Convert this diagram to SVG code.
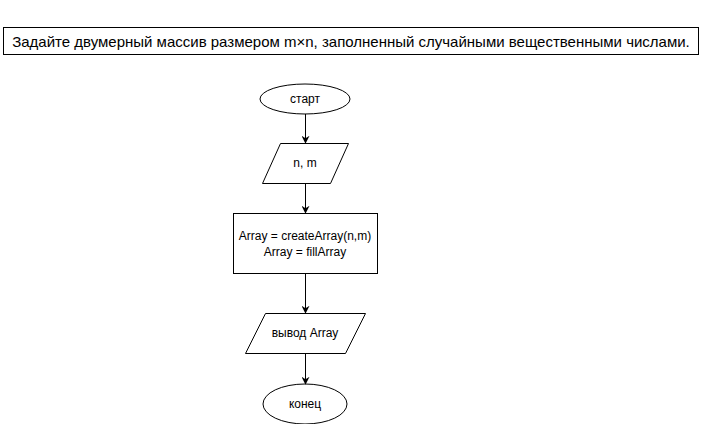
<svg xmlns="http://www.w3.org/2000/svg" width="701" height="424" viewBox="0 0 701 424">
<style>
.s{fill:#fff;stroke:#000;stroke-width:1}
.t{font-family:"Liberation Sans",Arial,sans-serif;font-size:12px;fill:#000;text-anchor:middle;dominant-baseline:central}
.c{stroke:#000;stroke-width:1;fill:none}
</style>
<defs>
<marker id="a" viewBox="0 0 10 10" refX="9" refY="5" markerWidth="8" markerHeight="8" markerUnits="userSpaceOnUse" orient="auto">
<path d="M0,0 L10,5 L0,10 L3,5 z" fill="#000"/>
</marker>
</defs>
<rect width="701" height="424" fill="#fff"/>
<g id="title">
<rect class="s" x="3.5" y="27.5" width="695" height="27"/>
<text class="t" x="351" y="41" style="font-size:15px">Задайте двумерный массив размером m×n, заполненный случайными вещественными числами.</text>
</g>
<g id="start">
<ellipse class="s" cx="305" cy="99" rx="45" ry="15"/>
<text class="t" x="305" y="99">старт</text>
</g>
<g id="input">
<polygon class="s" points="280.5,143.5 348.5,143.5 330.5,183.5 262.5,183.5"/>
<text class="t" x="305" y="163">n, m</text>
</g>
<g id="process">
<rect class="s" x="233.5" y="213.5" width="144" height="60"/>
<text class="t" x="305" y="236">Array = createArray(n,m)</text>
<text class="t" x="305" y="252">Array = fillArray</text>
</g>
<g id="output">
<polygon class="s" points="265.5,313.5 365.5,313.5 345.5,353.5 245.5,353.5"/>
<text class="t" x="305" y="333">вывод Array</text>
</g>
<g id="end">
<ellipse class="s" cx="305" cy="404" rx="42" ry="20"/>
<text class="t" x="305" y="404">конец</text>
</g>
<g id="connectors">
<line class="c" x1="305.5" y1="114" x2="305.5" y2="143" marker-end="url(#a)"/>
<line class="c" x1="305.5" y1="184" x2="305.5" y2="213" marker-end="url(#a)"/>
<line class="c" x1="305.5" y1="274" x2="305.5" y2="313" marker-end="url(#a)"/>
<line class="c" x1="305.5" y1="354" x2="305.5" y2="384" marker-end="url(#a)"/>
</g>
</svg>
